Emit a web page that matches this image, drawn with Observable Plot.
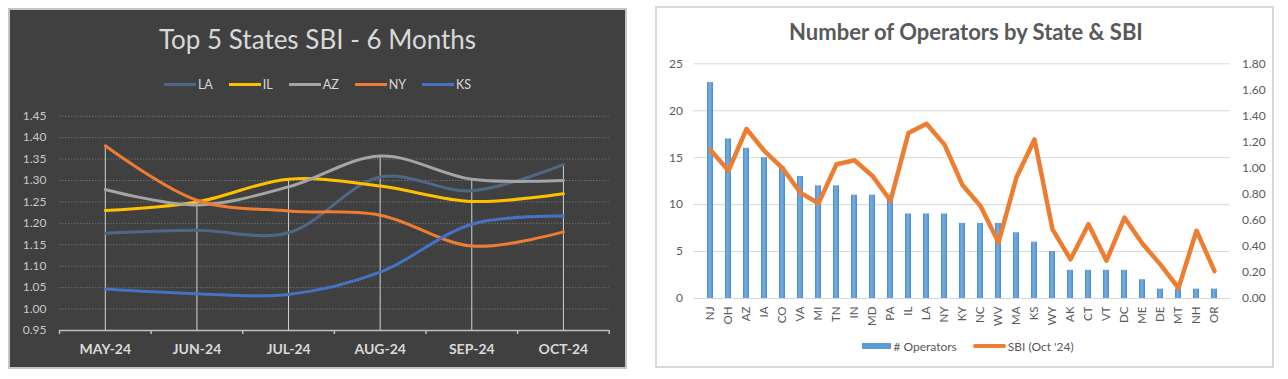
<!DOCTYPE html>
<html><head><meta charset="utf-8">
<script src="https://cdn.jsdelivr.net/npm/d3@7"></script>
<script src="https://cdn.jsdelivr.net/npm/@observablehq/plot@0.6"></script>
<style>
body{margin:0;width:1288px;height:379px;background:#fff;position:relative;overflow:hidden;font-family:Lato,sans-serif}
.abs{position:absolute}
#leftBg{left:8px;top:8px;width:619px;height:361px;background:#404040;border:2px solid #c4c4c4;box-sizing:border-box}
#leftTitle{left:8px;top:26px;width:619px;text-align:center;font-size:26px;line-height:26px;color:#d9d9d9}
#leftLegend{left:8px;top:77px;width:619px;height:14px;display:flex;justify-content:center;align-items:center;font-size:12.5px;color:#d9d9d9}
#leftLegend .item{display:flex;align-items:center;margin:0 8px}
#leftLegend .sw{width:32px;height:3px;margin-right:2px}
#leftPlot{left:8px;top:100px}
#rightBg{left:655px;top:6px;width:619px;height:362px;background:#fff;border:2px solid #d9d9d9;box-sizing:border-box}
#rightTitle{left:657px;top:21px;width:618px;text-align:center;font-size:22px;line-height:22px;font-weight:700;color:#595959}
#rightLegend{left:657px;top:339px;width:622px;height:14px;display:flex;justify-content:center;align-items:center;font-size:12px;color:#595959}
#rightLegend .item{display:flex;align-items:center;margin:0 8px}
#rightPlot{left:657px;top:50px}
</style>
</head><body>
<div id="leftBg" class="abs"></div>
<div id="leftTitle" class="abs">Top 5 States SBI - 6 Months</div>
<div id="leftLegend" class="abs"></div>
<div id="leftPlot" class="abs"></div>
<div id="rightBg" class="abs"></div>
<div id="rightTitle" class="abs">Number of Operators by State &amp; SBI</div>
<div id="rightLegend" class="abs"></div>
<div id="rightPlot" class="abs"></div>
<script>
// ---------- Left chart data ----------
const months = ["MAY-24","JUN-24","JUL-24","AUG-24","SEP-24","OCT-24"];
const LA = [1.177,1.184,1.178,1.308,1.276,1.337];
const IL = [1.230,1.250,1.303,1.287,1.251,1.269];
const AZ = [1.279,1.243,1.285,1.357,1.303,1.300];
const NY = [1.381,1.254,1.229,1.219,1.147,1.180];
const KS = [1.047,1.036,1.034,1.086,1.198,1.217];
const seriesNames = ["LA","IL","AZ","NY","KS"];
const seriesColors = ["#4e6785","#ffc000","#a5a5a5","#ed7d31","#4472c4"];
const leftTicks = [0.95,1.00,1.05,1.10,1.15,1.20,1.25,1.30,1.35,1.40,1.45];

// ---------- Right chart data ----------
const states = ["NJ","OH","AZ","IA","CO","VA","MI","TN","IN","MD","PA","IL","LA","NY","KY","NC","WV","MA","KS","WY","AK","CT","VT","DC","ME","DE","MT","NH","OR"];
const operators = [23,17,16,15,14,13,12,12,11,11,11,9,9,9,8,8,8,7,6,5,3,3,3,3,2,1,1,1,1];
const sbiOct = [1.14,0.98,1.30,1.13,1.00,0.81,0.73,1.03,1.06,0.94,0.75,1.27,1.34,1.18,0.87,0.71,0.43,0.93,1.22,0.53,0.30,0.57,0.29,0.62,0.42,0.26,0.08,0.52,0.21];
const opsTicks = [0,5,10,15,20,25];
const sbiTicks = [0,0.2,0.4,0.6,0.8,1.0,1.2,1.4,1.6,1.8];
const legendRight = ["# Operators","SBI (Oct '24)"];

// ---------- Left chart ----------
const seriesValues = [LA, IL, AZ, NY, KS];
const rows = seriesNames.flatMap((s, k) => seriesValues[k].map((v, i) => ({series: s, i, value: v})));
const tops = months.map((m, i) => ({i, top: d3.max(seriesValues, a => a[i]), base: leftTicks[0]}));
const idx = months.map((m, i) => i);
const bounds = months.map((m, i) => i - 0.5).concat([months.length - 0.5]);

const left = Plot.plot({
  width: 619, height: 269,
  marginLeft: 51, marginRight: 18.3, marginTop: 15.7, marginBottom: 39,
  x: {type: "linear", domain: [-0.5, months.length - 0.5], label: null},
  y: {domain: [leftTicks[0], leftTicks[leftTicks.length - 1]], label: null},
  color: {domain: seriesNames, range: seriesColors},
  style: {fontFamily: "Lato, sans-serif", color: "#c8c8c8", background: "transparent", overflow: "visible"},
  marks: [
    Plot.gridY(leftTicks.slice(1), {stroke: "#6e6e6e", strokeOpacity: 1, strokeDasharray: "1.5,1.5"}),
    Plot.ruleX(tops, {x: "i", y1: "base", y2: "top", stroke: "#d0d0d0", strokeWidth: 1}),
    Plot.line(rows, {x: "i", y: "value", z: "series", stroke: "series", strokeWidth: 3, curve: "catmull-rom"}),
    Plot.ruleY([leftTicks[0]], {stroke: "#bfbfbf", strokeWidth: 1.5}),
    Plot.axisX(bounds, {tickSize: 4, tickFormat: () => "", stroke: "#bfbfbf", strokeWidth: 1.5, label: null}),
    Plot.axisX(idx, {tickSize: 0, tickPadding: 14, tickFormat: i => months[i], fontSize: 14, fontWeight: "bold", fill: "#d9d9d9", label: null}),
    Plot.axisY(leftTicks, {tickSize: 0, tickPadding: 13, tickFormat: d => d.toFixed(2), fontSize: 12, fill: "#c8c8c8", label: null})
  ]
});
document.getElementById("leftPlot").appendChild(left);

const ll = document.getElementById("leftLegend");
seriesNames.forEach((s, k) => {
  const it = document.createElement("div"); it.className = "item";
  const sw = document.createElement("div"); sw.className = "sw"; sw.style.background = seriesColors[k];
  const t = document.createElement("span"); t.textContent = s;
  it.appendChild(sw); it.appendChild(t); ll.appendChild(it);
});

// ---------- Right chart ----------
const k = opsTicks[opsTicks.length - 1] / sbiTicks[sbiTicks.length - 1];
const rrows = states.map((s, i) => ({state: s, ops: operators[i], sbi: sbiOct[i]}));

const right = Plot.plot({
  width: 614, height: 290,
  marginLeft: 36.4, marginRight: 41.5, marginTop: 13.3, marginBottom: 42,
  x: {type: "band", domain: states, paddingInner: 0.675, paddingOuter: 0.3375, label: null},
  y: {domain: [0, opsTicks[opsTicks.length - 1]], label: null},
  style: {fontFamily: "Lato, sans-serif", color: "#595959", background: "transparent", overflow: "visible"},
  marks: [
    Plot.gridY(opsTicks, {stroke: "#d9d9d9", strokeOpacity: 1}),
    Plot.barY(rrows, {x: "state", y: "ops", fill: "url(#barGrad)"}),
    Plot.line(rrows, {x: "state", y: d => d.sbi * k, stroke: "#ed7d31", strokeWidth: 4.5, strokeLinejoin: "round"}),
    Plot.axisY(opsTicks, {anchor: "left", tickSize: 0, tickPadding: 11, fontSize: 12, label: null}),
    Plot.axisY(sbiTicks.map(v => v * k), {anchor: "right", tickSize: 0, tickPadding: 12, fontSize: 12, tickFormat: v => (v / k).toFixed(2), label: null}),
    Plot.axisX({tickSize: 0, tickPadding: 8, tickRotate: -90, fontSize: 11.5, label: null})
  ]
});
const defs = d3.select(right).insert("defs", ":first-child");
const g = defs.append("linearGradient").attr("id", "barGrad").attr("x1", "0").attr("x2", "1").attr("y1", "0").attr("y2", "0");
g.append("stop").attr("offset", "0%").attr("stop-color", "#4d8ccc");
g.append("stop").attr("offset", "45%").attr("stop-color", "#74aee4");
g.append("stop").attr("offset", "100%").attr("stop-color", "#4d8ccc");
document.getElementById("rightPlot").appendChild(right);

const rl = document.getElementById("rightLegend");
[["bar", "#5b9bd5"], ["line", "#ed7d31"]].forEach(([type, col], j) => {
  const it = document.createElement("div"); it.className = "item";
  const sw = document.createElement("div");
  sw.style.background = col;
  sw.style.width = type === "bar" ? "29px" : "33px";
  sw.style.height = type === "bar" ? "6px" : "4px";
  sw.style.marginRight = "2px";
  if (type === "line") sw.style.borderRadius = "2px";
  const t = document.createElement("span"); t.textContent = legendRight[j];
  it.appendChild(sw); it.appendChild(t); rl.appendChild(it);
});
</script>
</body></html>
